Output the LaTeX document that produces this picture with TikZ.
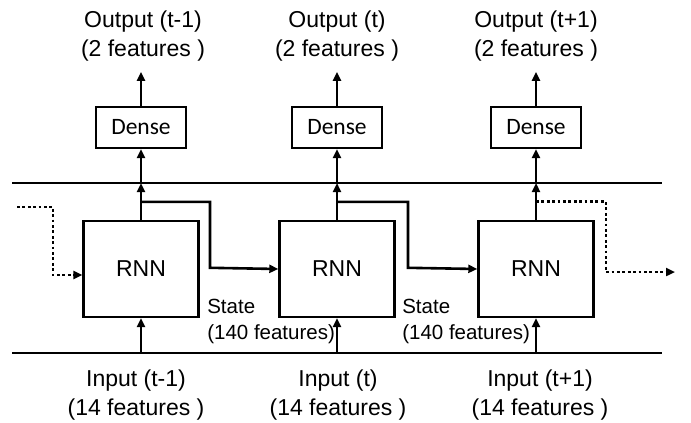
\documentclass[tikz,border=0pt]{standalone}
\usepackage{fontspec}
\setmainfont{Liberation Sans}
\newfontfamily\densefont{Carlito}
\usetikzlibrary{arrows.meta,positioning,calc}
\tikzstyle{rnn cell}=[
        draw,
        line width = 2.4pt,
        minimum width = 115pt,
        minimum height = 96pt,
        font = \fontsize{23}{27}\selectfont
    ]
\tikzstyle{dense cell}=[
    draw,
    line width = 2.4pt,
    minimum width = 90pt,
    minimum height = 41pt,
    font = \densefont\fontsize{23.5}{26}\selectfont
]
\tikzstyle{io text}=[
    align = center,
    inner sep = 0pt,
    font = \fontsize{23}{28.5}\selectfont
]
\tikzstyle{state text}=[
    align = left,
    inner sep = 0pt,
    font = \fontsize{20.5}{26}\selectfont
]

\begin{document}
\begin{tikzpicture}[x=1pt, y=-1pt, line width=2.6pt,
        flow/.style = {-{Triangle[length=9pt,width=8pt]}},
        loop/.style = {flow, line width=2.8pt, dash pattern=on 2.8pt off 2.6pt}]
        \useasboundingbox (0,0) rectangle (691,423);

        \node[rnn cell] (r1) at (141,269) {RNN};
        \node[rnn cell] (r2) at (337,269) {RNN};
        \node[rnn cell] (r3) at (536,269) {RNN};

        \node[dense cell] (d1) at (141,127.5) {Dense};
        \node[dense cell] (d2) at (337,127.5) {Dense};
        \node[dense cell] (d3) at (536,127.5) {Dense};

        \node[io text] (out1) at (143,36) {Output (t-1)\\(2 features )};
        \node[io text] (out2) at (337,36) {Output (t)\\(2 features )};
        \node[io text] (out3) at (536,36) {Output (t+1)\\(2 features )};

        \node[io text] (in1) at (136,395) {Input (t-1)\\(14 features )};
        \node[io text] (in2) at (338,395) {Input (t)\\(14 features )};
        \node[io text] (in3) at (540,395) {Input (t+1)\\(14 features )};

        \node[state text, anchor = west] (st1) at (206,321) {State\\(140 features)};
        \node[state text, anchor = west] (st2) at (401,321) {State\\(140 features)};

        % the two rails
        \coordinate (topL) at (12,183);
        \coordinate (topR) at (662,183);
        \coordinate (botL) at (12,353);
        \coordinate (botR) at (662,353);
        \draw (topL) -- (topR);
        \draw (botL) -- (botR);

        \foreach \i in {1,2,3} {
            \draw[flow] (r\i.south |- botL) -- (r\i.south);
            \draw[flow] (r\i.north) -- (r\i.north |- topL);
            \draw[flow] (r\i.north |- topL) -- (d\i.south);
            \draw[flow] (d\i.north) -- ++(0,-34);
            \coordinate (s\i) at ($(r\i.north)+(0,-18)$);
        }

        % state passed on
        \draw[flow] (s1) -| ++(69,66) -- (r2.west);
        \draw[flow] (s2) -| ++(71,66) -- (r3.west);

        % earlier and later steps
        \coordinate (inL) at (17,207);
        \coordinate (outR) at (675,272);
        \draw[loop] (inL) -| (53,275) -- ($(r1.west)+(0,6)$);
        \draw[loop] (s3) -| (606,272) -- (outR);

    \end{tikzpicture}
\end{document}
